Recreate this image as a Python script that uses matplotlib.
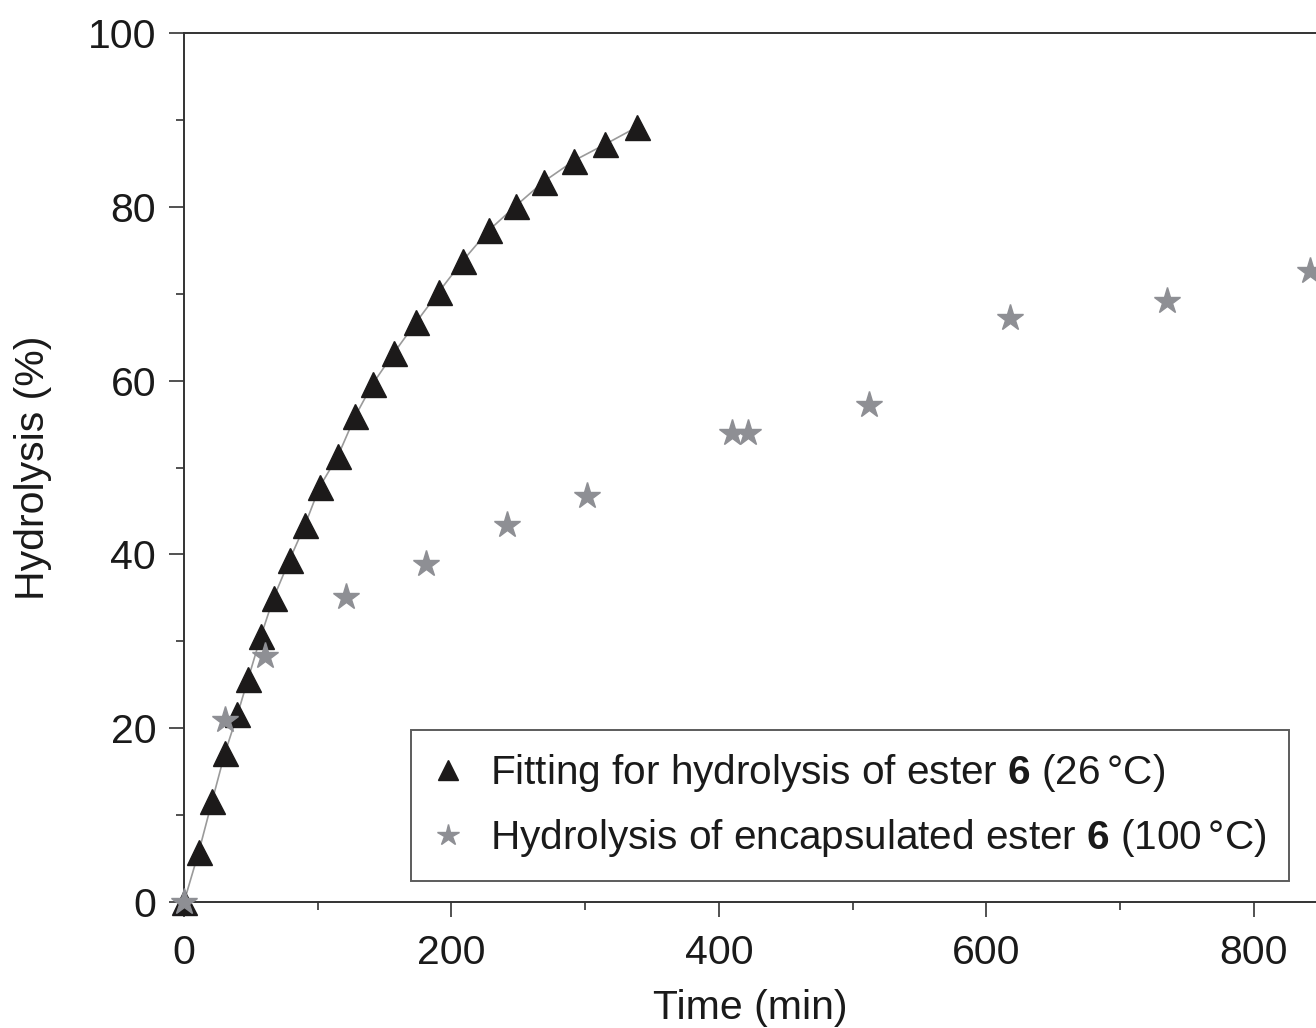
import matplotlib
matplotlib.use("Agg")
import matplotlib.pyplot as plt
from matplotlib.ticker import MultipleLocator

# Hydrolysis of ester 6 at 26 C (triangles + fitted curve)
t_free = [0, 11, 21, 30.5, 40, 48, 57.5, 67, 79, 90.5, 101.5, 115, 128, 141, 157,
          173.5, 190.5, 208.5, 228, 248, 269, 291.5, 315, 339]
h_free = [0, 5.75, 11.6, 17.1, 21.6, 25.7, 30.6, 35.0, 39.4, 43.4, 47.8, 51.3, 55.9,
          59.6, 63.2, 66.7, 70.2, 73.8, 77.3, 80.1, 82.9, 85.3, 87.2, 89.2]

# Hydrolysis of encapsulated ester 6 at 100 C (stars)
t_enc = [0, 30.5, 60.5, 121, 181, 241.5, 301, 410, 421.5, 512, 617.5, 735, 842]
h_enc = [0, 20.9, 28.3, 35.1, 38.9, 43.4, 46.7, 54.0, 54.0, 57.2, 67.2, 69.2, 72.6]

label_free = r"Fitting for hydrolysis of ester $\mathbf{6}$ (26$\,$°C)"
label_enc = r"Hydrolysis of encapsulated ester $\mathbf{6}$ (100$\,$°C)"

plt.rcParams['font.family'] = ['Liberation Sans', 'DejaVu Sans']
plt.rcParams['mathtext.fontset'] = 'custom'
plt.rcParams['mathtext.rm'] = 'Liberation Sans'
plt.rcParams['mathtext.bf'] = 'Liberation Sans:bold'

W, H = 1316, 1028
fig = plt.figure(figsize=(W / 100, H / 100), dpi=100)
ax = fig.add_axes([184 / W, (H - 902) / H, (W - 184) / W, (902 - 33) / H])

spine_col = '#333333'

ax.plot(t_free, h_free, color='#9a9a9a', linewidth=1.2, zorder=2)
ax.plot(t_free, h_free, linestyle='none', marker='^', markersize=18,
        color='#1c1a1a', clip_on=False, zorder=3, label=label_free)
ax.plot(t_enc, h_enc, linestyle='none', marker='*', markersize=20,
        color='#8e8f94', clip_on=False, zorder=4, label=label_enc)

ax.set_xlim(0, 846.4)
ax.set_ylim(0, 100)
ax.xaxis.set_major_locator(MultipleLocator(200))
ax.xaxis.set_minor_locator(MultipleLocator(100))
ax.yaxis.set_major_locator(MultipleLocator(20))
ax.yaxis.set_minor_locator(MultipleLocator(10))

ax.spines['right'].set_visible(False)
for s in ['left', 'top', 'bottom']:
    ax.spines[s].set_color(spine_col)
    ax.spines[s].set_linewidth(1.4)

ax.tick_params(which='major', direction='out', length=11, width=1.2,
               color=spine_col, labelsize=29.5, labelcolor='#1a1a1a')
ax.tick_params(axis='x', which='major', pad=12)
ax.tick_params(axis='y', which='major', pad=9)
ax.tick_params(which='minor', direction='out', length=6, width=1.2, color=spine_col)

ax.set_xlabel('Time (min)', fontsize=29.5, color='#1a1a1a', labelpad=12)
ax.set_ylabel('Hydrolysis (%)', fontsize=29.5, color='#1a1a1a', labelpad=26)

leg = ax.legend(loc='lower left', bbox_to_anchor=((411 - 184) / (W - 184), (902 - 881) / (902 - 33)),
                fontsize=29.2, frameon=True, fancybox=False, handletextpad=0.7,
                borderpad=0.55, labelspacing=0.55, handlelength=0.7, markerscale=0.8,
                borderaxespad=0)
leg.get_frame().set_edgecolor(spine_col)
leg.get_frame().set_linewidth(1.4)
for txt in leg.get_texts():
    txt.set_color('#1a1a1a')

fig.savefig('out.png', dpi=100)
